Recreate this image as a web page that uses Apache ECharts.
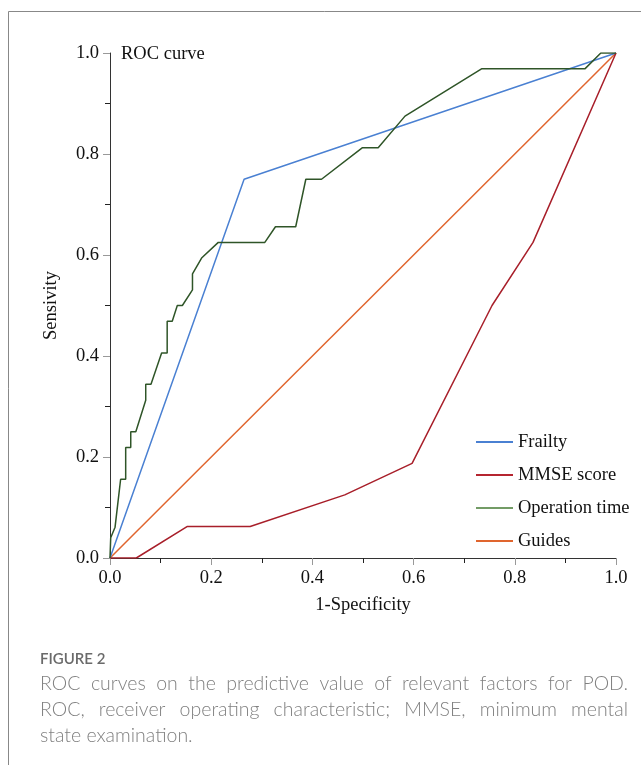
<!DOCTYPE html>
<html>
<head>
<meta charset="utf-8">
<script src="https://cdn.jsdelivr.net/npm/echarts@6/dist/echarts.min.js"></script>
<style>
html,body{margin:0;padding:0;background:#fff;}
#chart{width:641px;height:765px;}
</style>
</head>
<body>
<div id="chart"></div>
<script>
// ---- data ----
const seriesNames = ['Frailty', 'MMSE score', 'Operation time', 'Guides'];
const xTicks = [0.0, 0.2, 0.4, 0.6, 0.8, 1.0];

const frailtyFpr = [0, 0.265, 1];
const frailtyTpr = [0, 0.75, 1];

const mmseFpr = [0, 0.052, 0.153, 0.277, 0.464, 0.597, 0.755, 0.836, 1];
const mmseTpr = [0, 0, 0.0625, 0.0625, 0.125, 0.1875, 0.5, 0.625, 1];

const opFpr = [0, 0.0014, 0.010, 0.021, 0.031, 0.031, 0.041, 0.041, 0.051, 0.0706, 0.0706, 0.081, 0.102, 0.113, 0.113, 0.123, 0.133, 0.143, 0.163, 0.163, 0.181, 0.214, 0.306, 0.327, 0.367, 0.387, 0.418, 0.499, 0.530, 0.583, 0.735, 0.939, 0.970, 1.0];
const opTpr = [0, 0.04, 0.061, 0.156, 0.156, 0.219, 0.219, 0.25, 0.25, 0.3125, 0.344, 0.344, 0.406, 0.406, 0.469, 0.469, 0.5, 0.5, 0.531, 0.5625, 0.594, 0.625, 0.625, 0.656, 0.656, 0.75, 0.75, 0.8125, 0.8125, 0.875, 0.969, 0.969, 1.0, 1.0];

const guideFpr = [0, 1];
const guideTpr = [0, 1];

const captionLines = [
  'ROC curves on the predictive value of relevant factors for POD.',
  'ROC, receiver operating characteristic; MMSE, minimum mental',
  'state examination.'
];

function pairs(xs, ys) { return xs.map((x, i) => [x, ys[i]]); }

const colors = {
  'Frailty': '#4a80d2',
  'MMSE score': '#a81f2a',
  'Operation time': '#2f5528',
  'Guides': '#e0652e'
};

const serif = '"Liberation Serif", "DejaVu Serif", serif';
const FS = 18.5;
const chart = echarts.init(document.getElementById('chart'), null, {renderer: 'canvas'});

function mkSeries(name, data, z) {
  return {
    name: name, type: 'line', data: data, symbol: 'none', z: z,
    lineStyle: {color: colors[name], width: 1.5},
    itemStyle: {color: colors[name]}
  };
}

const axisCommon = {
  type: 'value', min: 0, max: 1, interval: 0.2,
  axisLine: {show: true, onZero: false, lineStyle: {color: '#333', width: 1}},
  axisTick: {show: true, inside: false, length: 7, lineStyle: {color: '#999', width: 1}},
  minorTick: {show: true, splitNumber: 2, length: 5, lineStyle: {color: '#222', width: 1}},
  splitLine: {show: false},
  minorSplitLine: {show: false},
  axisLabel: {color: '#111', fontFamily: serif, fontSize: FS, margin: 11, formatter: v => v.toFixed(1)},
  nameTextStyle: {color: '#111', fontFamily: serif, fontSize: FS}
};

// caption: justified lines (words spread across the text column), last line left aligned
const capFont = '300 19.5px Lato, "Open Sans", "Noto Sans", sans-serif';
const capLeft = 40, capRight = 628;
const ctx = document.createElement('canvas').getContext('2d');
ctx.font = capFont;
const captionGraphics = [];
captionLines.forEach((line, i) => {
  const top = 674 + i * 26;
  if (i === captionLines.length - 1) {
    captionGraphics.push({type: 'text', left: capLeft, top: top,
      style: {text: line, fill: '#808080', font: capFont}});
    return;
  }
  const words = line.split(' ');
  const widths = words.map(w => ctx.measureText(w).width);
  const total = widths.reduce((a, b) => a + b, 0);
  const gap = (capRight - capLeft - total) / (words.length - 1);
  let x = capLeft;
  words.forEach((w, k) => {
    captionGraphics.push({type: 'text', left: Math.round(x * 10) / 10, top: top,
      style: {text: w, fill: '#808080', font: capFont}});
    x += widths[k] + gap;
  });
});

chart.setOption({
  animation: false,
  backgroundColor: '#fff',
  title: {
    text: 'ROC curve', left: 116, top: 40,
    textStyle: {color: '#111', fontFamily: serif, fontSize: FS, fontWeight: 'normal'}
  },
  grid: {left: 110, right: 25, top: 53, bottom: 207},
  legend: {
    orient: 'vertical', left: 471, top: 427,
    icon: 'rect', itemWidth: 37, itemHeight: 2, itemGap: 13,
    textStyle: {color: '#111', fontFamily: serif, fontSize: FS, lineHeight: 20},
    data: [
      {name: 'Frailty', itemStyle: {color: '#4a80d2'}},
      {name: 'MMSE score', itemStyle: {color: '#b52530'}},
      {name: 'Operation time', itemStyle: {color: '#739c66'}},
      {name: 'Guides', itemStyle: {color: '#e0652e'}}
    ]
  },
  xAxis: Object.assign({}, axisCommon, {
    name: '1-Specificity', nameLocation: 'middle', nameGap: 38
  }),
  yAxis: Object.assign({}, axisCommon, {
    name: 'Sensivity', nameLocation: 'middle', nameGap: 49
  }),
  series: [
    mkSeries('Frailty', pairs(frailtyFpr, frailtyTpr), 3),
    mkSeries('MMSE score', pairs(mmseFpr, mmseTpr), 3),
    mkSeries('Operation time', pairs(opFpr, opTpr), 4),
    mkSeries('Guides', pairs(guideFpr, guideTpr), 2)
  ],
  graphic: [
    {type: 'line', shape: {x1: 8.5, y1: 11.5, x2: 641, y2: 11.5}, style: {stroke: '#888', lineWidth: 1}},
    {type: 'line', shape: {x1: 8.5, y1: 11.5, x2: 8.5, y2: 765}, style: {stroke: '#888', lineWidth: 1}},
    {type: 'text', left: 40, top: 652,
     style: {text: 'FIGURE 2', fill: '#6a6a6a', font: '600 15px Lato, "Open Sans", "Noto Sans", sans-serif'}}
  ].concat(captionGraphics)
});
</script>
</body>
</html>
